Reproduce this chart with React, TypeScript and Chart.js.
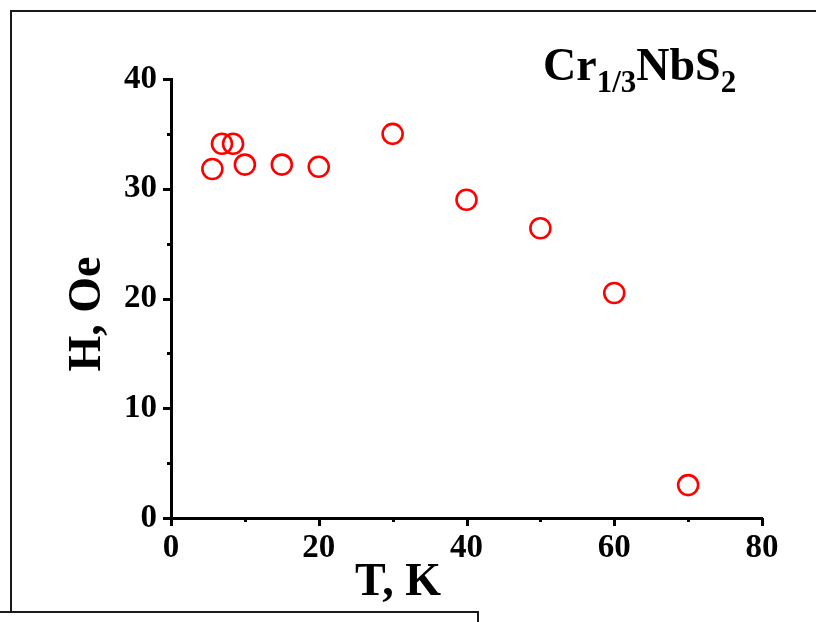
import React, { useEffect, useRef } from "react";
import { Chart, registerables } from "chart.js";

Chart.register(...registerables);

// Coercive field of Cr1/3NbS2 versus temperature
const temperatureK = [5.6, 6.9, 8.4, 10, 15, 20, 30, 40, 50, 60, 70];
const fieldOe = [31.8, 34.1, 34.1, 32.2, 32.2, 32.0, 35.0, 29.0, 26.4, 20.5, 3.0];

const xMajorTicks = [0, 20, 40, 60, 80];
const xMinorTicks = [10, 30, 50, 70];
const yMajorTicks = [0, 10, 20, 30, 40];
const yMinorTicks = [5, 15, 25, 35];

const xTitle = "T, K";
const yTitle = "H, Oe";
const compound = [
  { text: "Cr", sub: false },
  { text: "1/3", sub: true },
  { text: "NbS", sub: false },
  { text: "2", sub: true },
];

const SERIF = "'Times New Roman', 'Liberation Serif', serif";

const decorations = {
  id: "decorations",
  afterDraw(chart: any) {
    const { ctx, chartArea, scales } = chart;
    const xs = scales.x;
    const ys = scales.y;
    ctx.save();
    ctx.strokeStyle = "#000";
    ctx.lineCap = "butt";

    // outward tick marks, major and minor
    const xTick = (v: number, len: number, w: number) => {
      const px = Math.round(xs.getPixelForValue(v)) + 0.5;
      ctx.lineWidth = w;
      ctx.beginPath();
      ctx.moveTo(px, chartArea.bottom);
      ctx.lineTo(px, chartArea.bottom + len);
      ctx.stroke();
    };
    const yTick = (v: number, len: number, w: number) => {
      const py = Math.round(ys.getPixelForValue(v)) + 0.5;
      ctx.lineWidth = w;
      ctx.beginPath();
      ctx.moveTo(chartArea.left, py);
      ctx.lineTo(chartArea.left - len, py);
      ctx.stroke();
    };
    xMajorTicks.forEach((v) => xTick(v, 8, 3));
    xMinorTicks.forEach((v) => xTick(v, 4, 3));
    yMajorTicks.forEach((v) => yTick(v, 8, 3));
    yMinorTicks.forEach((v) => yTick(v, 4, 3));

    // axis titles
    ctx.fillStyle = "#000";
    ctx.font = `bold 46px ${SERIF}`;
    ctx.textAlign = "center";
    ctx.textBaseline = "alphabetic";
    ctx.fillText(xTitle, chartArea.left + 227, chartArea.bottom + 77);

    ctx.save();
    ctx.translate(chartArea.left - 71, chartArea.top + 235);
    ctx.rotate(-Math.PI / 2);
    ctx.fillText(yTitle, 0, 0);
    ctx.restore();

    // compound formula with subscripts
    let x = chartArea.left + 372;
    const baseline = chartArea.top + 1;
    ctx.textAlign = "left";
    for (const part of compound) {
      ctx.font = part.sub ? `bold 31px ${SERIF}` : `bold 46px ${SERIF}`;
      ctx.fillText(part.text, x, part.sub ? baseline + 12 : baseline);
      x += ctx.measureText(part.text).width;
    }
    ctx.restore();
  },
};

export default function App() {
  const canvasRef = useRef<HTMLCanvasElement | null>(null);

  useEffect(() => {
    const canvas = canvasRef.current;
    if (!canvas) return;
    const chart = new Chart(canvas, {
      type: "scatter",
      data: {
        datasets: [
          {
            data: temperatureK.map((t, i) => ({ x: t, y: fieldOe[i] })),
            pointStyle: "circle",
            pointRadius: 10,
            pointHoverRadius: 10,
            borderWidth: 2.6,
            pointBorderWidth: 2.6,
            borderColor: "#ff0000",
            pointBorderColor: "#ff0000",
            backgroundColor: "rgba(0,0,0,0)",
            pointBackgroundColor: "rgba(0,0,0,0)",
            showLine: false,
            clip: false,
          },
        ],
      },
      plugins: [decorations],
      options: {
        responsive: false,
        animation: false,
        devicePixelRatio: 1,
        layout: { padding: { left: 0, top: 79, right: 54, bottom: 0 } },
        plugins: {
          legend: { display: false },
          title: { display: false },
          tooltip: { enabled: false },
        },
        scales: {
          x: {
            type: "linear",
            min: 0,
            max: 80,
            afterBuildTicks: (scale: any) => {
              scale.ticks = xMajorTicks.map((v) => ({ value: v }));
            },
            afterFit: (scale: any) => {
              scale.height = 104;
            },
            grid: { display: true, drawOnChartArea: false, drawTicks: false },
            border: { display: true, width: 3, color: "#000" },
            ticks: {
              padding: 11,
              color: "#000",
              maxRotation: 0,
              autoSkip: false,
              font: { family: SERIF, size: 33, weight: "bold" },
            },
          },
          y: {
            type: "linear",
            min: 0,
            max: 40,
            afterBuildTicks: (scale: any) => {
              scale.ticks = yMajorTicks.map((v) => ({ value: v }));
            },
            afterFit: (scale: any) => {
              scale.width = 171;
            },
            grid: { display: true, drawOnChartArea: false, drawTicks: false },
            border: { display: true, width: 3, color: "#000" },
            ticks: {
              padding: 14,
              color: "#000",
              autoSkip: false,
              font: { family: SERIF, size: 33, weight: "bold" },
            },
          },
        },
      } as any,
    });
    return () => chart.destroy();
  }, []);

  const line = "#1a1a1a";
  return (
    <div style={{ position: "absolute", left: 0, top: 0, width: 816, height: 622, overflow: "hidden", background: "#fff" }}>
      <canvas ref={canvasRef} width={816} height={622} style={{ position: "absolute", left: 0, top: 0, display: "block" }} />
      {/* frame lines around the figure panel */}
      <div style={{ position: "absolute", left: 10, top: 10, width: 820, height: 601, borderTop: `2px solid ${line}`, borderLeft: `2px solid ${line}`, pointerEvents: "none" }} />
      <div style={{ position: "absolute", left: 0, top: 611, width: 477, height: 20, borderTop: `2px solid ${line}`, borderRight: `2px solid ${line}`, pointerEvents: "none" }} />
    </div>
  );
}
